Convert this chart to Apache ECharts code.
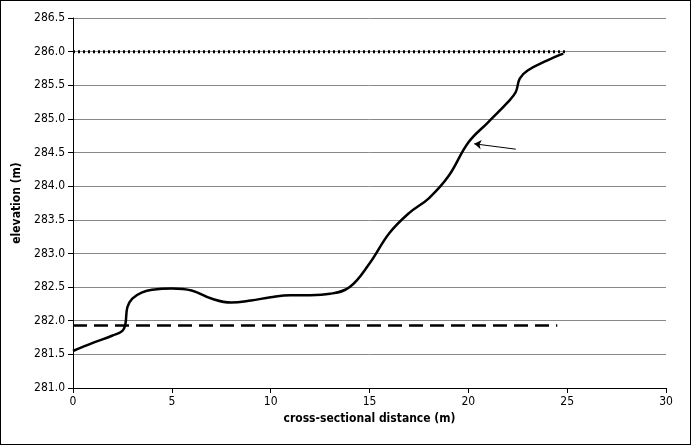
<!DOCTYPE html><html><head><meta charset="utf-8">
<script src="https://cdn.jsdelivr.net/npm/echarts@6/dist/echarts.min.js"></script>
<style>body{margin:0}#c{width:691px;height:445px;box-sizing:border-box;border:1px solid #000}</style></head><body><div id="c"></div><script>
const profileX=[0,1,2,2.5,2.65,2.75,3,3.5,4,5,6,7,8,9,10,11,12,13,14,15,16,17,18,19,20,21,22,22.4,22.6,23,24,24.8];
const profileY=[281.55,281.67,281.78,281.85,281.95,282.2,282.33,282.42,282.46,282.48,282.45,282.33,282.27,282.3,282.35,282.38,282.38,282.4,282.5,282.85,283.3,283.6,283.82,284.15,284.65,284.95,285.25,285.4,285.6,285.72,285.87,285.97];
const meanFlowX=[0,24.5], meanFlowY=[281.93,281.93];
const overbankX=[0,25], overbankY=[286,286];
const noteText=['mean annual flow level','overbank flow level','sandbar','turtle nest site'];
const noteX=[13.5,20.3,20,24.4];
const noteY=[282.08,286.1,283.0,284.55];
const font='"Liberation Sans Narrow","DejaVu Sans Condensed",sans-serif';
const ch=echarts.init(document.getElementById('c'));
ch.setOption({animation:false,
grid:{left:72,right:24,top:17,bottom:56},
xAxis:{type:'value',min:0,max:30,interval:5,name:'cross-sectional distance (m)',nameLocation:'middle',nameGap:22,
 nameTextStyle:{fontFamily:font,fontSize:12,fontWeight:'bold',color:'#000'},
 axisLine:{lineStyle:{color:'#000'}},axisTick:{show:true,lineStyle:{color:'#000'}},splitLine:{show:false},
 axisLabel:{fontFamily:font,fontSize:12,color:'#000'}},
yAxis:{type:'value',min:281,max:286.5,interval:0.5,name:'elevation (m)',nameLocation:'middle',nameGap:44,
 nameTextStyle:{fontFamily:font,fontSize:12,fontWeight:'bold',color:'#000'},
 axisLine:{show:true,lineStyle:{color:'#000'}},axisTick:{show:true,lineStyle:{color:'#000'}},
 splitLine:{lineStyle:{color:'#888'}},
 axisLabel:{fontFamily:font,fontSize:12,color:'#000',formatter:v=>v.toFixed(1)}},
series:[
{type:'line',data:profileX.map((x,i)=>[x,profileY[i]]),smooth:0.4,symbol:'none',lineStyle:{color:'#000',width:2.5}},
{type:'line',data:meanFlowX.map((x,i)=>[x,meanFlowY[i]]),symbol:'none',lineStyle:{color:'#000',width:2.5,type:[14,7]}},
{type:'line',data:overbankX.map((x,i)=>[x,overbankY[i]]),symbol:'none',lineStyle:{color:'#000',width:3,type:[2,3]}},
{type:'scatter',symbolSize:0,itemStyle:{opacity:0},
 data:noteX.map((x,i)=>({value:[x,noteY[i]],name:noteText[i]})),
 label:{show:true,position:'inside',formatter:p=>p.name,fontFamily:font,fontSize:12,color:'#000'},
 markLine:{symbol:['none','arrow'],symbolSize:7,silent:true,label:{show:false},lineStyle:{color:'#000',width:1,type:'solid'},
 data:[[{coord:[22.4,284.55]},{coord:[20.3,284.63]}]]}}
]});
</script></body></html>
